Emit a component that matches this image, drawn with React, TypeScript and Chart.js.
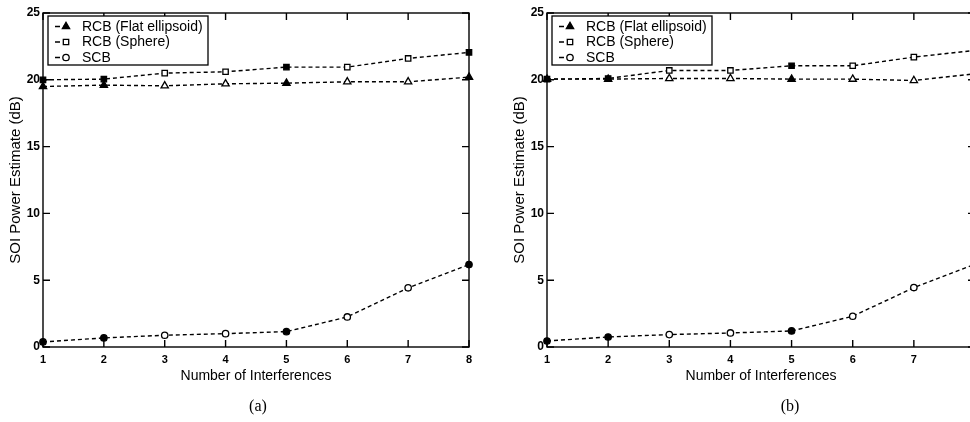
import React, { useEffect, useRef } from "react";
import { Chart, registerables } from "chart.js";
import { drawPoint } from "chart.js/helpers";

Chart.register(...registerables);

// ---------- data ----------
const X_VALUES = [1, 2, 3, 4, 5, 6, 7, 8];
const Y_TICKS = [0, 5, 10, 15, 20, 25];
const SERIES_NAMES = ["RCB (Flat ellipsoid)", "RCB (Sphere)", "SCB"];
const X_TITLE = "Number of Interferences";
const Y_TITLE = "SOI Power Estimate (dB)";

const A_FLAT = [19.5, 19.6, 19.55, 19.7, 19.75, 19.85, 19.85, 20.2];
const A_SPHERE = [20.0, 20.05, 20.5, 20.6, 20.95, 20.95, 21.6, 22.05];
const A_SCB = [0.38, 0.68, 0.88, 1.0, 1.15, 2.25, 4.43, 6.17];

const B_FLAT = [20.05, 20.05, 20.1, 20.1, 20.05, 20.05, 19.95, 20.45];
const B_SPHERE = [20.05, 20.1, 20.7, 20.7, 21.05, 21.05, 21.7, 22.2];
const B_SCB = [0.45, 0.75, 0.93, 1.05, 1.2, 2.3, 4.45, 6.2];

// style only: which markers look filled in the scan
const FILLED = [true, true, false, false, true, false, false, true];

const FONT = "'Liberation Sans', Arial, Helvetica, sans-serif";
const STYLES = ["triangle", "rect", "circle"];
const RADII = [4.2, 3.8, 3.2];

const framePlugin = {
  id: "frame",
  beforeDatasetsDraw(chart: any) {
    const { ctx, chartArea: a, scales } = chart;
    ctx.save();
    ctx.strokeStyle = "#000";
    ctx.lineWidth = 1.4;
    ctx.strokeRect(a.left, a.top, a.right - a.left, a.bottom - a.top);
    const L = 7;
    ctx.beginPath();
    scales.x.ticks.forEach((t: any) => {
      const px = scales.x.getPixelForValue(t.value);
      ctx.moveTo(px, a.bottom);
      ctx.lineTo(px, a.bottom - L);
      ctx.moveTo(px, a.top);
      ctx.lineTo(px, a.top + L);
    });
    scales.y.ticks.forEach((t: any) => {
      const py = scales.y.getPixelForValue(t.value);
      ctx.moveTo(a.left, py);
      ctx.lineTo(a.left + L, py);
      ctx.moveTo(a.right, py);
      ctx.lineTo(a.right - L, py);
    });
    ctx.stroke();
    ctx.restore();
  },
};

const legendPlugin = {
  id: "boxLegend",
  afterDatasetsDraw(chart: any) {
    const { ctx, chartArea: a } = chart;
    const bx = a.left + 5;
    const by = a.top + 3;
    const bw = 160;
    const bh = 49;
    ctx.save();
    ctx.fillStyle = "#fff";
    ctx.fillRect(bx, by, bw, bh);
    ctx.strokeStyle = "#000";
    ctx.lineWidth = 1.3;
    ctx.strokeRect(bx, by, bw, bh);
    chart.data.datasets.forEach((ds: any, i: number) => {
      const cy = by + 10.5 + i * 15.5;
      ctx.save();
      ctx.setLineDash([5, 3]);
      ctx.lineWidth = 1.4;
      ctx.beginPath();
      ctx.moveTo(bx + 7, cy);
      ctx.lineTo(bx + 22, cy);
      ctx.stroke();
      ctx.restore();
      ctx.fillStyle = i === 0 ? "#000" : "#fff";
      ctx.strokeStyle = "#000";
      ctx.lineWidth = 1.3;
      drawPoint(ctx, { pointStyle: STYLES[i], radius: RADII[i], rotation: 0, borderWidth: 1.3 } as any, bx + 18, cy);
      ctx.fillStyle = "#000";
      ctx.font = `14px ${FONT}`;
      ctx.textBaseline = "middle";
      ctx.textAlign = "left";
      ctx.fillText(ds.label, bx + 34, cy + 0.5);
    });
    ctx.restore();
  },
};

function makeDataset(i: number, values: number[]) {
  return {
    label: SERIES_NAMES[i],
    data: X_VALUES.map((x, k) => ({ x, y: values[k] })),
    borderColor: "#000",
    borderWidth: 1.4,
    borderDash: [4, 3],
    pointStyle: STYLES[i],
    pointRadius: RADII[i],
    pointBorderColor: "#000",
    pointBorderWidth: 1.3,
    pointBackgroundColor: FILLED.map((f) => (f ? "#000" : "#fff")),
    tension: 0,
    clip: false as any,
  };
}

function makeConfig(flat: number[], sphere: number[], scb: number[], yWidth: number, yTitlePad: number): any {
  return {
    type: "line",
    data: {
      datasets: [makeDataset(0, flat), makeDataset(1, sphere), makeDataset(2, scb)],
    },
    options: {
      animation: false,
      responsive: false,
      maintainAspectRatio: false,
      layout: { padding: { left: 0, right: 11, top: 13, bottom: 0 } },
      plugins: { legend: { display: false }, tooltip: { enabled: false } },
      scales: {
        x: {
          type: "linear",
          min: X_VALUES[0],
          max: X_VALUES[X_VALUES.length - 1],
          afterBuildTicks: (s: any) => {
            s.ticks = X_VALUES.map((v) => ({ value: v }));
          },
          afterFit: (s: any) => {
            s.height = 75;
          },
          grid: { display: false, drawTicks: false },
          border: { display: false },
          ticks: {
            color: "#000",
            padding: 6,
            font: { family: FONT, size: 11, weight: "bold" },
            maxRotation: 0,
            callback: (v: any) => String(v),
          },
          title: {
            display: true,
            text: X_TITLE,
            color: "#000",
            font: { family: FONT, size: 14 },
            padding: { top: 0, bottom: 37 },
          },
        },
        y: {
          type: "linear",
          min: Y_TICKS[0],
          max: Y_TICKS[Y_TICKS.length - 1],
          afterBuildTicks: (s: any) => {
            s.ticks = Y_TICKS.map((v) => ({ value: v }));
          },
          afterFit: (s: any) => {
            s.width = yWidth;
          },
          grid: { display: false, drawTicks: false },
          border: { display: false },
          ticks: {
            color: "#000",
            padding: 3,
            font: { family: FONT, size: 12, weight: "bold" },
            callback: (v: any) => String(v),
          },
          title: {
            display: true,
            text: Y_TITLE,
            color: "#000",
            font: { family: FONT, size: 15 },
            padding: { top: yTitlePad, bottom: 0 },
          },
        },
      },
    },
    plugins: [framePlugin, legendPlugin],
  };
}

function Panel(props: {
  flat: number[];
  sphere: number[];
  scb: number[];
  left: number;
  width: number;
  yWidth: number;
  yTitlePad: number;
}) {
  const ref = useRef<HTMLCanvasElement>(null);
  useEffect(() => {
    const chart = new Chart(ref.current as HTMLCanvasElement, makeConfig(props.flat, props.sphere, props.scb, props.yWidth, props.yTitlePad));
    return () => chart.destroy();
  }, []);
  return (
    <canvas
      ref={ref}
      width={props.width}
      height={422}
      style={{ position: "absolute", left: props.left, top: 0, width: props.width, height: 422 }}
    />
  );
}

const captionStyle: React.CSSProperties = {
  position: "absolute",
  top: 396,
  width: 40,
  textAlign: "center",
  fontFamily: "'Liberation Serif', 'Times New Roman', serif",
  fontSize: 16,
  lineHeight: "20px",
  color: "#000",
};

export default function App() {
  return (
    <div
      style={{
        position: "absolute",
        left: 0,
        top: 0,
        width: 970,
        height: 422,
        overflow: "hidden",
        background: "#fff",
      }}
    >
      <Panel flat={A_FLAT} sphere={A_SPHERE} scb={A_SCB} left={0} width={480} yWidth={43} yTitlePad={7} />
      <Panel flat={B_FLAT} sphere={B_SPHERE} scb={B_SCB} left={480} width={506} yWidth={67} yTitlePad={31} />
      <div style={{ ...captionStyle, left: 238 }}>(a)</div>
      <div style={{ ...captionStyle, left: 770 }}>(b)</div>
    </div>
  );
}
